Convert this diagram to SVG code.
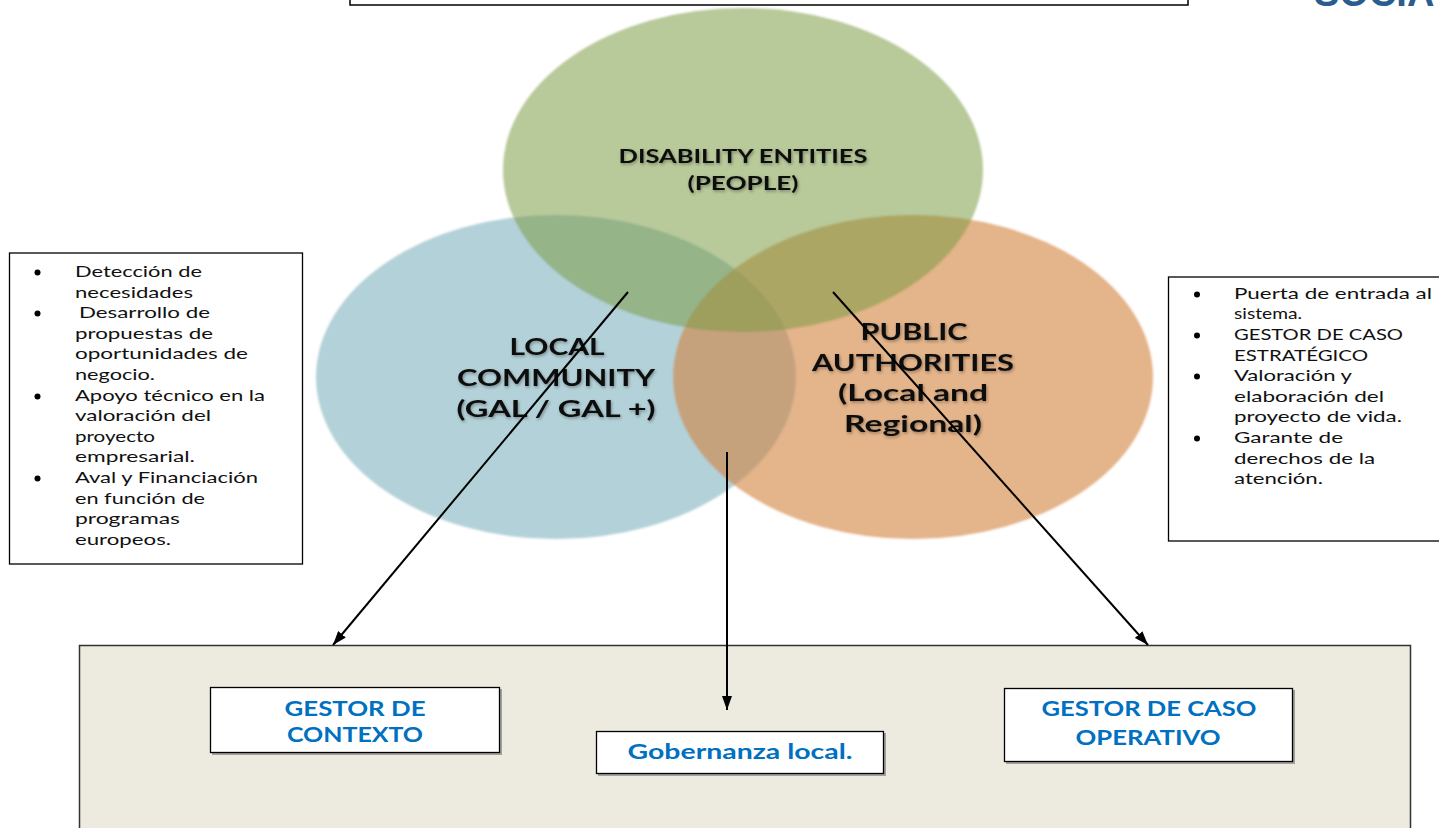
<svg xmlns="http://www.w3.org/2000/svg" width="1439" height="828" viewBox="0 0 1439 828">
<defs>
<style>
.lst{font-family:Lato,"Open Sans","Liberation Sans",sans-serif;font-size:15px;fill:#111}
.ct{font-family:Lato,"Open Sans","Liberation Sans",sans-serif;font-weight:bold;fill:#111;text-anchor:middle}
.bt{font-family:Lato,"Liberation Sans",sans-serif;font-weight:bold;font-size:20px;fill:#0070c0;text-anchor:middle}
.box{fill:#fff;stroke:#000;stroke-width:1.3}
.conn{stroke:#000;stroke-width:2;fill:none}
</style>
<filter id="soft" x="-5%" y="-5%" width="110%" height="110%"><feGaussianBlur stdDeviation="1.2"/></filter>
<filter id="tsh" x="-10%" y="-30%" width="120%" height="160%"><feDropShadow dx="1" dy="1.5" stdDeviation="1.5" flood-color="#000" flood-opacity="0.35"/></filter>
<marker id="ah2" viewBox="0 0 14 10" refX="14" refY="5" markerWidth="14" markerHeight="10" markerUnits="userSpaceOnUse" orient="auto"><path d="M0,0 L14,5 L0,10 z" fill="#000"/></marker>
</defs>
<rect width="1439" height="828" fill="#fff"/>

<g id="top-box"><rect x="350" y="-10" width="838" height="15" fill="#fff" stroke="#000" stroke-width="1.5"/></g>
<g id="title-fragment"><text x="1314" y="6" font-family="'Liberation Sans',Arial,sans-serif" font-weight="bold" font-size="38" fill="#2b5c8f">SOCIA</text></g>

<g id="venn" filter="url(#soft)">
<ellipse id="local-community-shape" cx="556" cy="377" rx="240" ry="162" fill="#b3d1d8"/>
<ellipse id="public-authorities-shape" cx="913" cy="377" rx="240" ry="162" fill="rgb(210,130,62)" fill-opacity="0.6"/>
<ellipse id="disability-entities-shape" cx="743" cy="170" rx="240" ry="162" fill="rgb(124,155,68)" fill-opacity="0.54"/>
</g>

<g id="disability-entities" filter="url(#tsh)">
<text class="ct" x="743" y="163" font-size="18" textLength="249" lengthAdjust="spacingAndGlyphs">DISABILITY ENTITIES</text>
<text class="ct" x="743" y="190" font-size="18" textLength="111" lengthAdjust="spacingAndGlyphs">(PEOPLE)</text>
</g>
<g id="local-community" filter="url(#tsh)">
<text class="ct" x="557" y="355" font-size="23" textLength="95" lengthAdjust="spacingAndGlyphs">LOCAL</text>
<text class="ct" x="556" y="386" font-size="23" textLength="198" lengthAdjust="spacingAndGlyphs">COMMUNITY</text>
<text class="ct" x="556" y="417" font-size="23" textLength="199" lengthAdjust="spacingAndGlyphs">(GAL / GAL +)</text>
</g>
<g id="public-authorities" filter="url(#tsh)">
<text class="ct" x="914" y="340" font-size="23" textLength="107" lengthAdjust="spacingAndGlyphs">PUBLIC</text>
<text class="ct" x="913" y="371" font-size="23" textLength="202" lengthAdjust="spacingAndGlyphs">AUTHORITIES</text>
<text class="ct" x="913" y="401" font-size="23" textLength="150" lengthAdjust="spacingAndGlyphs">(Local and</text>
<text class="ct" x="913" y="432" font-size="23" textLength="138" lengthAdjust="spacingAndGlyphs">Regional)</text>
</g>

<g id="left-list">
<rect x="9.5" y="253" width="293" height="311" fill="#fff" stroke="#000" stroke-width="1.3"/>
<circle cx="37.5" cy="272.5" r="3"/>
<circle cx="37.5" cy="313.5" r="3"/>
<circle cx="37.5" cy="396.5" r="3"/>
<circle cx="37.5" cy="478.5" r="3"/>
<text class="lst" x="75" y="277" textLength="127" lengthAdjust="spacingAndGlyphs">Detección de</text>
<text class="lst" x="75" y="298" textLength="118" lengthAdjust="spacingAndGlyphs">necesidades</text>
<text class="lst" x="79" y="318" textLength="131" lengthAdjust="spacingAndGlyphs">Desarrollo de</text>
<text class="lst" x="75" y="339" textLength="138" lengthAdjust="spacingAndGlyphs">propuestas de</text>
<text class="lst" x="75" y="359" textLength="173" lengthAdjust="spacingAndGlyphs">oportunidades de</text>
<text class="lst" x="75" y="380" textLength="80" lengthAdjust="spacingAndGlyphs">negocio.</text>
<text class="lst" x="75" y="401" textLength="190" lengthAdjust="spacingAndGlyphs">Apoyo técnico en la</text>
<text class="lst" x="75" y="421" textLength="136" lengthAdjust="spacingAndGlyphs">valoración del</text>
<text class="lst" x="75" y="442" textLength="80" lengthAdjust="spacingAndGlyphs">proyecto</text>
<text class="lst" x="75" y="462" textLength="120" lengthAdjust="spacingAndGlyphs">empresarial.</text>
<text class="lst" x="75" y="483" textLength="183" lengthAdjust="spacingAndGlyphs">Aval y Financiación</text>
<text class="lst" x="75" y="504" textLength="130" lengthAdjust="spacingAndGlyphs">en función de</text>
<text class="lst" x="75" y="524" textLength="105" lengthAdjust="spacingAndGlyphs">programas</text>
<text class="lst" x="75" y="545" textLength="96" lengthAdjust="spacingAndGlyphs">europeos.</text>
</g>

<g id="right-list">
<rect x="1168.5" y="277" width="290" height="264" fill="#fff" stroke="#000" stroke-width="1.3"/>
<circle cx="1197" cy="294.5" r="3"/>
<circle cx="1197" cy="335.5" r="3"/>
<circle cx="1197" cy="376.5" r="3"/>
<circle cx="1197" cy="438.5" r="3"/>
<text class="lst" x="1234" y="299" textLength="198" lengthAdjust="spacingAndGlyphs">Puerta de entrada al</text>
<text class="lst" x="1234" y="319" textLength="68" lengthAdjust="spacingAndGlyphs">sistema.</text>
<text class="lst" x="1234" y="340" textLength="169" lengthAdjust="spacingAndGlyphs">GESTOR DE CASO</text>
<text class="lst" x="1234" y="361" textLength="134" lengthAdjust="spacingAndGlyphs">ESTRATÉGICO</text>
<text class="lst" x="1234" y="381" textLength="118" lengthAdjust="spacingAndGlyphs">Valoración y</text>
<text class="lst" x="1234" y="402" textLength="150" lengthAdjust="spacingAndGlyphs">elaboración del</text>
<text class="lst" x="1234" y="422" textLength="168" lengthAdjust="spacingAndGlyphs">proyecto de vida.</text>
<text class="lst" x="1234" y="443" textLength="109" lengthAdjust="spacingAndGlyphs">Garante de</text>
<text class="lst" x="1234" y="464" textLength="141" lengthAdjust="spacingAndGlyphs">derechos de la</text>
<text class="lst" x="1234" y="484" textLength="89" lengthAdjust="spacingAndGlyphs">atención.</text>
</g>

<g id="bottom-panel">
<rect x="79.5" y="645.5" width="1331" height="200" fill="#edeae0" stroke="#333" stroke-width="1.5"/>
</g>
<g id="gestor-contexto">
<rect x="212" y="689" width="290" height="66" fill="#555" opacity="0.5"/>
<rect class="box" x="210.5" y="687.5" width="289" height="65"/>
<text class="bt" x="355" y="716" textLength="141" lengthAdjust="spacingAndGlyphs">GESTOR DE</text>
<text class="bt" x="355" y="742" textLength="136" lengthAdjust="spacingAndGlyphs">CONTEXTO</text>
</g>
<g id="gobernanza-local">
<rect x="598" y="733" width="288" height="43" fill="#555" opacity="0.5"/>
<rect class="box" x="596.5" y="731.5" width="287" height="42"/>
<text class="bt" x="740" y="759" textLength="225" lengthAdjust="spacingAndGlyphs">Gobernanza local.</text>
</g>
<g id="gestor-caso-operativo">
<rect x="1006" y="690" width="289" height="74" fill="#555" opacity="0.5"/>
<rect class="box" x="1004.5" y="688.5" width="288" height="73"/>
<text class="bt" x="1149" y="716" textLength="215" lengthAdjust="spacingAndGlyphs">GESTOR DE CASO</text>
<text class="bt" x="1148" y="745" textLength="145" lengthAdjust="spacingAndGlyphs">OPERATIVO</text>
</g>

<g id="connectors">
<line class="conn" x1="628" y1="292" x2="333" y2="645" marker-end="url(#ah2)"/>
<line class="conn" x1="833" y1="292" x2="1148" y2="645" marker-end="url(#ah2)"/>
<line class="conn" x1="727" y1="452" x2="727" y2="710" marker-end="url(#ah2)"/>
</g>
</svg>
